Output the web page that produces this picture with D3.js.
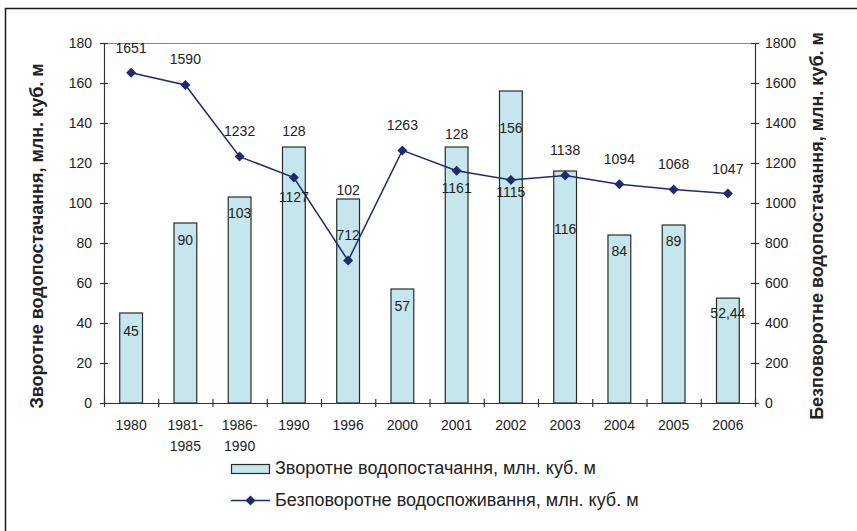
<!DOCTYPE html>
<html>
<head>
<meta charset="utf-8">
<script src="https://cdn.jsdelivr.net/npm/d3@7"></script>
<style>
  body { margin: 0; background: #fff; }
  svg { font-family: "Liberation Sans", Arial, sans-serif; }
</style>
</head>
<body>
<svg id="chart"></svg>
<script>
// Data
const categories = ["1980", "1981-\n1985", "1986-\n1990", "1990", "1996", "2000", "2001", "2002", "2003", "2004", "2005", "2006"];
const returnSupply = [45, 90, 103, 128, 102, 57, 128, 156, 116, 84, 89, 52.44];
const irrevocableUse = [1651, 1590, 1232, 1127, 712, 1263, 1161, 1115, 1138, 1094, 1068, 1047];
const leftTicks = [0, 20, 40, 60, 80, 100, 120, 140, 160, 180];
const rightTicks = [0, 200, 400, 600, 800, 1000, 1200, 1400, 1600, 1800];

const barName = "Зворотне водопостачання, млн. куб. м";
const lineName = "Безповоротне водоспоживання, млн. куб. м";
const leftTitle = "Зворотне водопостачання, млн. куб. м";
const rightTitle = "Безповоротне водопостачання, млн. куб. м";

// label offsets (as placed in the original)
const barLabelDy = [18, 17, 16, -16, -9, 17, -13, 37, 58, 16, 16, 15];
const lineLabelDy = [-25, -26, -26, 19, -26, -25, 17, 12, -25, -25, -25, -25];

// Dimensions
const width = 857;
const height = 531;
const plotLeft = 104, plotRight = 755, plotTop = 43, plotBottom = 403;

const svg = d3.select("#chart")
    .attr("width", width)
    .attr("height", height);

// outer frame (only left and top visible)
svg.append("rect")
    .attr("x", 5.5).attr("y", 8.5)
    .attr("width", width + 10).attr("height", height + 10)
    .attr("fill", "none")
    .attr("stroke", "#1a1a1a")
    .attr("stroke-width", 1.5);

const fmt = d3.formatLocale({ decimal: ",", thousands: " ", grouping: [3], currency: ["", ""] }).format("~f");

// Scales
const xScale = d3.scaleBand()
    .domain(d3.range(categories.length))
    .range([plotLeft, plotRight])
    .paddingInner(0.58)
    .paddingOuter(0.29);

const xEdge = d3.scaleLinear()
    .domain([0, categories.length])
    .range([plotLeft, plotRight]);

const yLeft = d3.scaleLinear().domain([0, 180]).range([plotBottom, plotTop]);
const yRight = d3.scaleLinear().domain([0, 1800]).range([plotBottom, plotTop]);

// top border of plot area
svg.append("line")
    .attr("x1", plotLeft).attr("x2", plotRight)
    .attr("y1", plotTop + 0.5).attr("y2", plotTop + 0.5)
    .attr("stroke", "#8a8a8a");

// Bars
svg.selectAll(".bar")
    .data(returnSupply)
    .enter()
    .append("rect")
    .attr("class", "bar")
    .attr("x", (d, i) => xScale(i))
    .attr("y", d => yLeft(d))
    .attr("width", xScale.bandwidth())
    .attr("height", d => plotBottom - yLeft(d))
    .attr("fill", "#c4e6ec")
    .attr("stroke", "#2a2a2a")
    .attr("stroke-width", 1.2);

// Axes
const axisColor = "#333";
function styleAxis(g) {
    g.select(".domain").attr("stroke", axisColor).attr("stroke-width", 1.2);
    g.selectAll(".tick line").attr("stroke", axisColor).attr("stroke-width", 1.2);
    g.selectAll("text").attr("fill", "#222").style("font-size", "14px");
}

const gl = svg.append("g")
    .attr("transform", `translate(${plotLeft},0)`)
    .call(d3.axisLeft(yLeft).tickValues(leftTicks).tickSizeInner(4).tickSizeOuter(0).tickPadding(8))
    .call(styleAxis);
gl.selectAll(".tick line").attr("x2", 4).attr("x1", -4);

const gr = svg.append("g")
    .attr("transform", `translate(${plotRight},0)`)
    .call(d3.axisRight(yRight).tickValues(rightTicks).tickSizeInner(4).tickSizeOuter(0).tickPadding(6).tickFormat(d3.format("d")))
    .call(styleAxis);
gr.selectAll(".tick line").attr("x1", -4).attr("x2", 4);

const gx = svg.append("g")
    .attr("transform", `translate(0,${plotBottom})`)
    .call(d3.axisBottom(xEdge).tickValues(d3.range(categories.length + 1)).tickSizeInner(4).tickSizeOuter(0).tickFormat(""))
    .call(styleAxis);
gx.selectAll(".tick line").attr("y1", -4).attr("y2", 4);

// category labels
const gc = svg.append("g")
    .attr("transform", `translate(0,${plotBottom})`)
    .call(d3.axisBottom(xScale).tickSize(0).tickFormat(""));
gc.select(".domain").remove();
gc.selectAll(".tick").each(function (i) {
    const lines = categories[i].split("\n");
    const t = d3.select(this).append("text")
        .attr("fill", "#222")
        .style("font-size", "14px")
        .attr("text-anchor", "middle");
    lines.forEach((s, k) => {
        t.append("tspan").attr("x", 0).attr("y", 27 + k * 21).text(s);
    });
});

// Line
const lineColor = "#1d2a6e";
const line = d3.line()
    .x((d, i) => xScale(i) + xScale.bandwidth() / 2)
    .y(d => yRight(d));

svg.append("path")
    .datum(irrevocableUse)
    .attr("d", line)
    .attr("fill", "none")
    .attr("stroke", lineColor)
    .attr("stroke-width", 1.5);

const diamond = d3.symbol().type(d3.symbolSquare).size(50);
svg.selectAll(".dot")
    .data(irrevocableUse)
    .enter()
    .append("path")
    .attr("class", "dot")
    .attr("d", diamond)
    .attr("transform", (d, i) => `translate(${xScale(i) + xScale.bandwidth() / 2},${yRight(d)}) rotate(45)`)
    .attr("fill", lineColor);

// Data labels
svg.selectAll(".bar-label")
    .data(returnSupply)
    .enter()
    .append("text")
    .attr("class", "bar-label")
    .attr("x", (d, i) => xScale(i) + xScale.bandwidth() / 2)
    .attr("y", (d, i) => yLeft(d) + barLabelDy[i])
    .attr("dy", "0.35em")
    .attr("text-anchor", "middle")
    .attr("fill", "#222")
    .style("font-size", "14px")
    .text(d => fmt(d));

svg.selectAll(".line-label")
    .data(irrevocableUse)
    .enter()
    .append("text")
    .attr("class", "line-label")
    .attr("x", (d, i) => xScale(i) + xScale.bandwidth() / 2)
    .attr("y", (d, i) => yRight(d) + lineLabelDy[i])
    .attr("dy", "0.35em")
    .attr("text-anchor", "middle")
    .attr("fill", "#222")
    .style("font-size", "14px")
    .text(d => d);

// Axis titles
svg.append("text")
    .attr("transform", "translate(37,236) rotate(-90)")
    .attr("text-anchor", "middle")
    .attr("dy", "0.35em")
    .style("font-size", "18px")
    .style("font-weight", "bold")
    .attr("fill", "#222")
    .text(leftTitle);

svg.append("text")
    .attr("transform", "translate(817,226) rotate(-90)")
    .attr("text-anchor", "middle")
    .attr("dy", "0.35em")
    .style("font-size", "18px")
    .style("font-weight", "bold")
    .attr("fill", "#222")
    .text(rightTitle);

// Legend
const lg = svg.append("g").attr("transform", "translate(231,0)");
lg.append("rect")
    .attr("x", 0.5).attr("y", 464.5)
    .attr("width", 38).attr("height", 9)
    .attr("fill", "#c4e6ec")
    .attr("stroke", "#2a2a2a")
    .attr("stroke-width", 1.2);
lg.append("text")
    .attr("x", 44).attr("y", 468)
    .attr("dy", "0.35em")
    .style("font-size", "18px")
    .attr("fill", "#222")
    .text(barName);

lg.append("line")
    .attr("x1", 0).attr("x2", 39)
    .attr("y1", 500.5).attr("y2", 500.5)
    .attr("stroke", lineColor)
    .attr("stroke-width", 1.5);
lg.append("path")
    .attr("d", diamond)
    .attr("transform", "translate(19.5,500.5) rotate(45)")
    .attr("fill", lineColor);
lg.append("text")
    .attr("x", 44).attr("y", 500)
    .attr("dy", "0.35em")
    .style("font-size", "18px")
    .attr("fill", "#222")
    .text(lineName);
</script>
</body>
</html>
